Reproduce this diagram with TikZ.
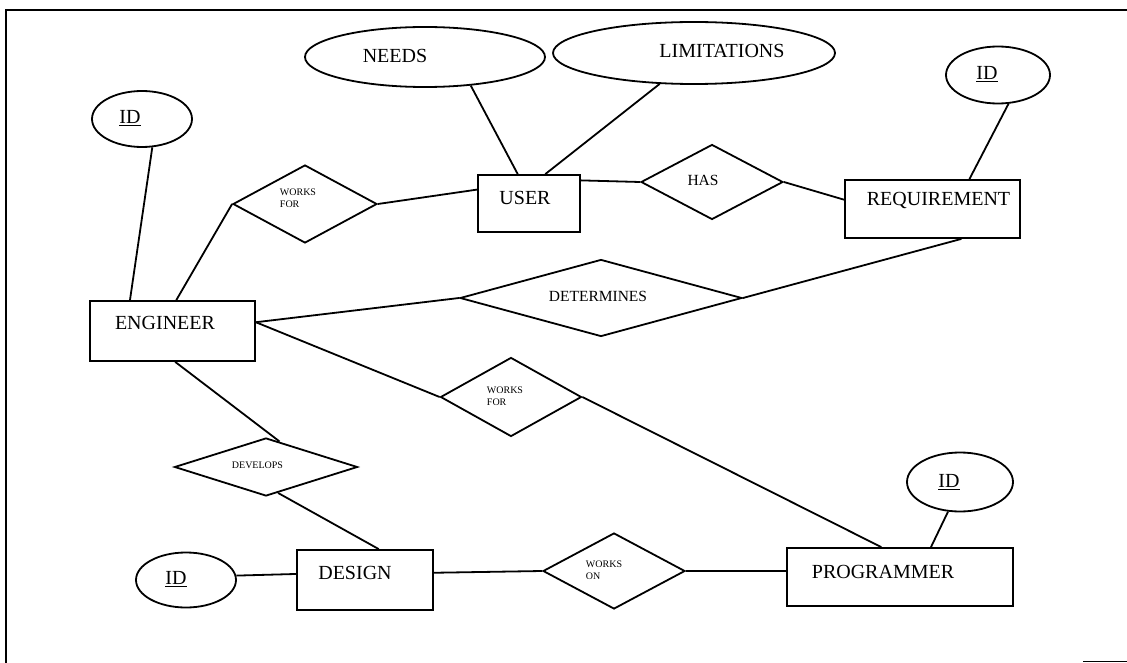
\documentclass[tikz,border=0pt]{standalone}
\usepackage{fontspec}
\setmainfont{Liberation Serif}
\usetikzlibrary{shapes.geometric}
\begin{document}
\begin{tikzpicture}[x=1pt,y=-1pt, line width=1.8pt,
  ent/.style={draw, rectangle, inner sep=0pt},
  attr/.style={draw, ellipse, inner sep=0pt},
  rel/.style={draw, diamond, inner sep=0pt},
  big/.style={font=\fontsize{20}{22}\selectfont, inner sep=0pt},
  mid/.style={font=\fontsize{15.5}{17}\selectfont, inner sep=0pt},
  small/.style={font=\fontsize{10}{12}\selectfont, align=left, inner sep=0pt}]
\useasboundingbox (0,0) rectangle (1127,663);
% frame
\coordinate (f1) at (6,663);
\coordinate (f2) at (6,10);
\coordinate (f3) at (1127,10);
\coordinate (f4) at (1083,661);
\coordinate (f5) at (1127,661);
\draw[line width=2pt] (f1) -- (f2) -- (f3);
\draw[line width=1pt] (f4) -- (f5);
% entities
\node[ent, minimum width=165pt, minimum height=60pt,
  label={[big, xshift=-7.5pt, yshift=8pt]center:ENGINEER}] (eng) at (172.5,331) {};
\node[ent, minimum width=102pt, minimum height=57pt,
  label={[big, xshift=-4pt, yshift=6pt]center:USER}] (user) at (529,203.5) {};
\node[ent, minimum width=175pt, minimum height=58pt,
  label={[big, xshift=6pt, yshift=8pt]center:REQUIREMENT}] (req) at (932.5,209) {};
\node[ent, minimum width=136pt, minimum height=60pt,
  label={[big, xshift=-10pt, yshift=7pt]center:DESIGN}] (des) at (365,580) {};
\node[ent, minimum width=226pt, minimum height=58pt,
  label={[big, xshift=-17pt, yshift=5pt]center:PROGRAMMER}] (prog) at (900,577) {};
% attributes
\node[attr, minimum width=100pt, minimum height=56pt,
  label={[big, xshift=-12pt, yshift=1pt]center:\underline{ID}}] (ide) at (142,119) {};
\node[attr, minimum width=240pt, minimum height=60pt,
  label={[big, xshift=-30pt, yshift=1pt]center:NEEDS}] (needs) at (425,57) {};
\node[attr, minimum width=282pt, minimum height=62pt,
  label={[big, xshift=28pt, yshift=2pt]center:LIMITATIONS}] (lim) at (694,53) {};
\node[attr, minimum width=104pt, minimum height=57pt,
  label={[big, xshift=-11pt, yshift=1pt]center:\underline{ID}}] (idr) at (998,75) {};
\node[attr, minimum width=106pt, minimum height=59pt,
  label={[big, xshift=-11pt, yshift=0pt]center:\underline{ID}}] (idp) at (960,482) {};
\node[attr, minimum width=100pt, minimum height=55pt,
  label={[big, xshift=-10pt, yshift=1pt]center:\underline{ID}}] (idd) at (186,580) {};
% relationships
\node[rel, minimum width=144pt, minimum height=78pt,
  label={[small, xshift=-7pt, yshift=5.5pt]center:WORKS\\FOR}] (wf1) at (305,204) {};
\node[rel, minimum width=142pt, minimum height=75pt,
  label={[mid, xshift=-9pt, yshift=2pt]center:HAS}] (has) at (712,182) {};
\node[rel, minimum width=282pt, minimum height=77pt,
  label={[mid, xshift=-3pt, yshift=2pt]center:DETERMINES}] (det) at (601,298) {};
\node[rel, minimum width=141pt, minimum height=79pt,
  label={[small, xshift=-6pt, yshift=1pt]center:WORKS\\FOR}] (wf2) at (511,397) {};
\node[rel, minimum width=183pt, minimum height=58pt,
  label={[small, xshift=-8.5pt, yshift=2pt]center:DEVELOPS}] (dev) at (266,467) {};
\node[rel, minimum width=142pt, minimum height=76pt,
  label={[small, xshift=-10pt, yshift=1pt]center:WORKS\\ON}] (won) at (614,571) {};
% connectors
\draw (ide.-70) -- (eng.144);
\draw (eng.83) -- (wf1.west);
\draw (wf1.east) -- (user.165);
\draw (needs.-32) -- (user.111);
\draw (lim.-138) -- (user.61);
\draw (user.24) -- (has.west);
\draw (has.east) -- (req.174);
\draw (idr.-70) -- (req.39);
\draw (eng.6) -- (det.west);
\draw (det.east) -- (req.-46.5);
\draw (eng.6) -- (wf2.west);
\draw (wf2.east) -- (prog.122);
\draw (eng.-85) -- (dev.62);
\draw (dev.-65) -- (des.66.6);
\draw (idd.5) -- (des.175);
\draw (des.6) -- (won.west);
\draw (won.east) -- (prog.177);
\draw (idp.-112) -- (prog.44);
\end{tikzpicture}
\end{document}
